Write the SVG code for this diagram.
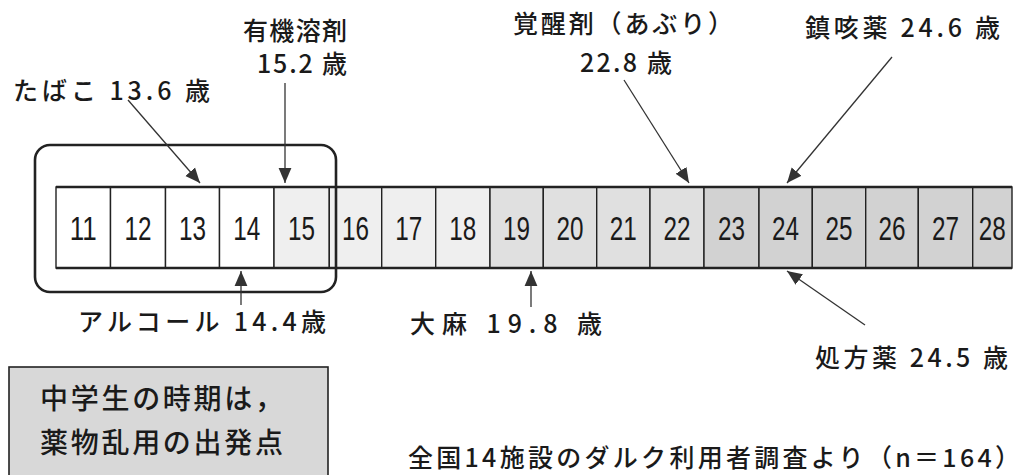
<svg xmlns="http://www.w3.org/2000/svg" width="1026" height="475" viewBox="0 0 1026 475">
<style>
.lbl{font-family:"Noto Sans CJK JP","Liberation Sans",sans-serif;font-size:25px;font-weight:500;fill:#1a1a1a}
.num{font-family:"Liberation Sans","Noto Sans CJK JP",sans-serif;font-size:34px;fill:#1a1a1a;text-anchor:middle}
.cell{stroke:#222;stroke-width:1.4}
.w{fill:#ffffff}.g1{fill:#efefef}.g2{fill:#e0e0e0}.g3{fill:#d2d2d2}
.arr{stroke:#333;stroke-width:1.3;fill:none;marker-end:url(#ah)}
</style>
<defs>
<marker id="ah" markerUnits="userSpaceOnUse" markerWidth="16" markerHeight="14" refX="14" refY="6" orient="auto" viewBox="0 0 15 12">
<path d="M0,0 L14,6 L0,12 z" fill="#333"/>
</marker>
</defs>
<rect width="1026" height="475" fill="#fff"/>
<g id="cells">
<rect class="cell w" x="56" y="187" width="54.5" height="81"/>
<rect class="cell w" x="110.5" y="187" width="55" height="81"/>
<rect class="cell w" x="165.5" y="187" width="54" height="81"/>
<rect class="cell w" x="219.5" y="187" width="54.5" height="81"/>
<rect class="cell g1" x="274" y="187" width="55.3" height="81"/>
<rect class="cell g1" x="329.3" y="187" width="52.4" height="81"/>
<rect class="cell g1" x="381.7" y="187" width="54" height="81"/>
<rect class="cell g1" x="435.7" y="187" width="54.3" height="81"/>
<rect class="cell g2" x="490" y="187" width="53.3" height="81"/>
<rect class="cell g2" x="543.3" y="187" width="53.4" height="81"/>
<rect class="cell g2" x="596.7" y="187" width="53.3" height="81"/>
<rect class="cell g2" x="650" y="187" width="54" height="81"/>
<rect class="cell g3" x="704" y="187" width="55" height="81"/>
<rect class="cell g3" x="759" y="187" width="53.3" height="81"/>
<rect class="cell g3" x="812.3" y="187" width="53.4" height="81"/>
<rect class="cell g3" x="865.7" y="187" width="52.6" height="81"/>
<rect class="cell g3" x="918.3" y="187" width="54.4" height="81"/>
<rect class="cell g3" x="972.7" y="187" width="39.3" height="81"/>
<line x1="56" y1="187" x2="1012" y2="187" stroke="#222" stroke-width="2.4"/>
<line x1="56" y1="268" x2="1012" y2="268" stroke="#222" stroke-width="2.4"/>
<g class="num">
<text x="83.3" y="240" textLength="27" lengthAdjust="spacingAndGlyphs">11</text>
<text x="138" y="240" textLength="27" lengthAdjust="spacingAndGlyphs">12</text>
<text x="192.5" y="240" textLength="27" lengthAdjust="spacingAndGlyphs">13</text>
<text x="246.7" y="240" textLength="27" lengthAdjust="spacingAndGlyphs">14</text>
<text x="301.6" y="240" textLength="27" lengthAdjust="spacingAndGlyphs">15</text>
<text x="355.5" y="240" textLength="27" lengthAdjust="spacingAndGlyphs">16</text>
<text x="408.7" y="240" textLength="27" lengthAdjust="spacingAndGlyphs">17</text>
<text x="462.8" y="240" textLength="27" lengthAdjust="spacingAndGlyphs">18</text>
<text x="516.6" y="240" textLength="27" lengthAdjust="spacingAndGlyphs">19</text>
<text x="570" y="240" textLength="27" lengthAdjust="spacingAndGlyphs">20</text>
<text x="623.3" y="240" textLength="27" lengthAdjust="spacingAndGlyphs">21</text>
<text x="677" y="240" textLength="27" lengthAdjust="spacingAndGlyphs">22</text>
<text x="731.5" y="240" textLength="27" lengthAdjust="spacingAndGlyphs">23</text>
<text x="785.6" y="240" textLength="27" lengthAdjust="spacingAndGlyphs">24</text>
<text x="839" y="240" textLength="27" lengthAdjust="spacingAndGlyphs">25</text>
<text x="892" y="240" textLength="27" lengthAdjust="spacingAndGlyphs">26</text>
<text x="945.5" y="240" textLength="27" lengthAdjust="spacingAndGlyphs">27</text>
<text x="992.3" y="240" textLength="27" lengthAdjust="spacingAndGlyphs">28</text>
</g>
</g>
<g id="junior-high-frame">
<rect x="35" y="145" width="301" height="147" rx="15" ry="15" fill="none" stroke="#222" stroke-width="2.6"/>
</g>
<g id="connectors">
<line class="arr" x1="128" y1="100" x2="200" y2="183"/>
<line class="arr" x1="285" y1="83" x2="285" y2="183"/>
<line class="arr" x1="624" y1="80" x2="689" y2="183"/>
<line class="arr" x1="892" y1="57" x2="787" y2="183"/>
<line class="arr" x1="241" y1="305" x2="241" y2="271"/>
<line class="arr" x1="531" y1="307" x2="531" y2="271"/>
<line class="arr" x1="865" y1="325" x2="787" y2="271"/>
</g>
<g id="tobacco"><text class="lbl" x="13" y="100" textLength="197">たばこ 13.6 歳</text></g>
<g id="solvent"><text class="lbl" x="243" y="40" textLength="104">有機溶剤</text><text class="lbl" x="257" y="73" textLength="90">15.2 歳</text></g>
<g id="stimulant"><text class="lbl" x="513" y="33" textLength="220">覚醒剤（あぶり）</text><text class="lbl" x="580" y="72" textLength="92">22.8 歳</text></g>
<g id="cough"><text class="lbl" x="805" y="37" textLength="195">鎮咳薬 24.6 歳</text></g>
<g id="alcohol"><text class="lbl" x="78" y="331" textLength="248">アルコール 14.4歳</text></g>
<g id="cannabis"><text class="lbl" x="410" y="333" textLength="192">大麻 19.8 歳</text></g>
<g id="prescription"><text class="lbl" x="815" y="367" textLength="193">処方薬 24.5 歳</text></g>
<g id="note">
<rect x="9" y="367" width="319" height="115" fill="#d8d8d8" stroke="#222" stroke-width="1.6"/>
<text class="lbl" x="40" y="409" style="font-size:28px" textLength="243">中学生の時期は，</text>
<text class="lbl" x="40" y="453" style="font-size:28px" textLength="243">薬物乱用の出発点</text>
</g>
<g id="source"><text class="lbl" x="408" y="467" textLength="612">全国14施設のダルク利用者調査より（n＝164）</text></g>
</svg>
